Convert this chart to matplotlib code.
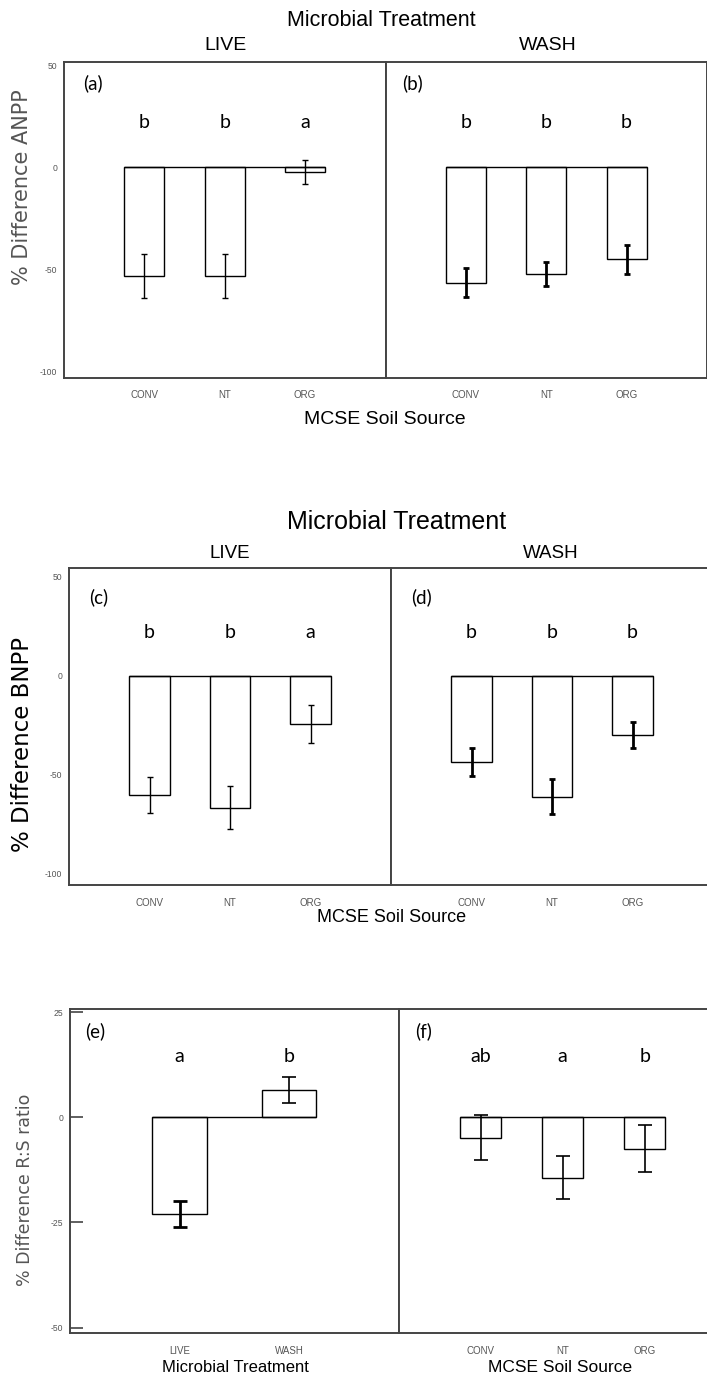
import matplotlib

matplotlib.use("Agg")
import matplotlib.pyplot as plt  # noqa: E402

W, H = 707, 1380

soil = ["CONV", "NT", "ORG"]
microbes = ["LIVE", "WASH"]

anpp_live = [-53.4, -53.4, -2.3]
anpp_live_se = [11.0, 11.0, 5.9]
anpp_live_letters = ["b", "b", "a"]
anpp_wash = [-56.7, -52.6, -45.2]
anpp_wash_se = [7.2, 5.9, 7.0]
anpp_wash_letters = ["b", "b", "b"]

bnpp_live = [-60.0, -66.5, -24.2]
bnpp_live_se = [9.0, 10.7, 9.5]
bnpp_live_letters = ["b", "b", "a"]
bnpp_wash = [-43.3, -61.0, -29.8]
bnpp_wash_se = [7.0, 8.9, 6.7]
bnpp_wash_letters = ["b", "b", "b"]

rs_microbe = [-23.0, 6.6]
rs_microbe_se = [3.05, 3.05]
rs_microbe_letters = ["a", "b"]
rs_soil = [-4.8, -14.3, -7.4]
rs_soil_se = [5.35, 5.15, 5.5]
rs_soil_letters = ["ab", "a", "b"]

SANS = ["Liberation Sans", "DejaVu Sans"]
LETTER_FONT = ["Lato", "DejaVu Sans"]
GREY = "#555555"


def px_box(left, top, right, bottom):
    return [left / W, 1 - bottom / H, (right - left) / W, (bottom - top) / H]


def fig_text(fig, x, y, s, **kw):
    kw.setdefault("family", SANS)
    kw.setdefault("ha", "center")
    kw.setdefault("va", "center")
    fig.text(x / W, 1 - y / H, s, **kw)


def bar_panel(ax, labels, means, errs, letters, tag, ylim, yticks, letter_y, tag_xy,
              err_lw=1.0, capsize=2.0, show_y=True, xlim=None):
    x = list(range(1, len(labels) + 1))
    width = 0.5
    ax.bar(x, means, width=width, color="white", edgecolor="black", linewidth=1.0, zorder=2)
    ax.hlines(0, x[0] - width / 2, x[-1] + width / 2, color="black", linewidth=1.0, zorder=3)
    lw = err_lw if isinstance(err_lw, list) else [err_lw] * len(x)
    for xi, m, e, w in zip(x, means, errs, lw):
        ax.errorbar(xi, m, yerr=e, fmt="none", ecolor="black", elinewidth=w,
                    capsize=capsize, capthick=w, zorder=4)
    for xi, t in zip(x, letters):
        ax.text(xi, letter_y, t, ha="center", va="center", fontsize=14, family=LETTER_FONT)
    ax.text(tag_xy[0], tag_xy[1], tag, ha="left", va="center", fontsize=13.5, family=LETTER_FONT)
    ax.set_xlim(xlim if xlim else (0, len(labels) + 1))
    ax.set_ylim(*ylim)
    ax.set_xticks(x)
    ax.set_xticklabels(labels, fontsize=7, color=GREY, family=SANS)
    ax.tick_params(axis="x", length=0, pad=9)
    ax.set_yticks(yticks)
    if show_y:
        ax.set_yticklabels([str(t) for t in yticks], fontsize=6.2, color=GREY, family=SANS)
    else:
        ax.set_yticklabels([])
    ax.tick_params(axis="y", length=0, pad=5)
    for sp in ax.spines.values():
        sp.set_color("#444444")
        sp.set_linewidth(1.4)


fig = plt.figure(figsize=(W / 100, H / 100), dpi=100)

# ANPP panels (a) and (b)
ylim1 = (-103.4, 51.5)
ticks1 = [50, 0, -50, -100]
ax_a = fig.add_axes(px_box(64, 62, 385.5, 378))
ax_b = fig.add_axes(px_box(385.5, 62, 707, 378))
bar_panel(ax_a, soil, anpp_live, anpp_live_se, anpp_live_letters, "(a)", ylim1, ticks1, 21.6, (0.24, 41))
bar_panel(ax_b, soil, anpp_wash, anpp_wash_se, anpp_wash_letters, "(b)", ylim1, ticks1, 21.6, (0.21, 41),
          err_lw=2.0, show_y=False)
fig_text(fig, 381, 20, "Microbial Treatment", fontsize=15.5)
fig_text(fig, 225, 45, "LIVE", fontsize=14)
fig_text(fig, 548, 45, "WASH", fontsize=14)
fig_text(fig, 385, 420, "MCSE Soil Source", fontsize=14)
fig_text(fig, 22, 187, "% Difference ANPP", fontsize=15, rotation=90, color=GREY, family=["DejaVu Sans"])

# BNPP panels (c) and (d)
ylim2 = (-105.6, 54.5)
ax_c = fig.add_axes(px_box(69, 568, 391, 885))
ax_d = fig.add_axes(px_box(391, 568, 713, 885))
bar_panel(ax_c, soil, bnpp_live, bnpp_live_se, bnpp_live_letters, "(c)", ylim2, ticks1, 21.7, (0.25, 40))
bar_panel(ax_d, soil, bnpp_wash, bnpp_wash_se, bnpp_wash_letters, "(d)", ylim2, ticks1, 21.7, (0.25, 40),
          err_lw=2.0, capsize=2.5, show_y=False)
fig_text(fig, 397, 522, "Microbial Treatment", fontsize=18)
fig_text(fig, 230, 553, "LIVE", fontsize=13.5)
fig_text(fig, 551, 553, "WASH", fontsize=13.5)
fig_text(fig, 392, 918, "MCSE Soil Source", fontsize=13)
fig_text(fig, 23, 745, "% Difference BNPP", fontsize=16.5, rotation=90, color="black", family=["DejaVu Sans"])

# Root:shoot panels (e) and (f)
ylim3 = (-51.3, 25.8)
ticks3 = [25, 0, -25, -50]
ax_e = fig.add_axes(px_box(70, 1009, 398.5, 1333))
ax_f = fig.add_axes(px_box(398.5, 1009, 727, 1333))
bar_panel(ax_e, microbes, rs_microbe, rs_microbe_se, rs_microbe_letters, "(e)", ylim3, ticks3, 14.5, (0.14, 20.5),
          err_lw=[2.0, 1.2], capsize=5, xlim=(0, 3))
ax_e.tick_params(axis="y", direction="in", length=9, width=1.2, color="#444444")
bar_panel(ax_f, soil, rs_soil, rs_soil_se, rs_soil_letters, "(f)", ylim3, ticks3, 14.5, (0.2, 20.5),
          err_lw=1.2, capsize=5, show_y=False)
fig_text(fig, 235, 1368, "Microbial Treatment", fontsize=12)
fig_text(fig, 560, 1368, "MCSE Soil Source", fontsize=12.5)
fig_text(fig, 25, 1190, "% Difference R:S ratio", fontsize=12.5, rotation=90, color=GREY, family=["DejaVu Sans"])

fig.savefig("out.png", dpi=100)
